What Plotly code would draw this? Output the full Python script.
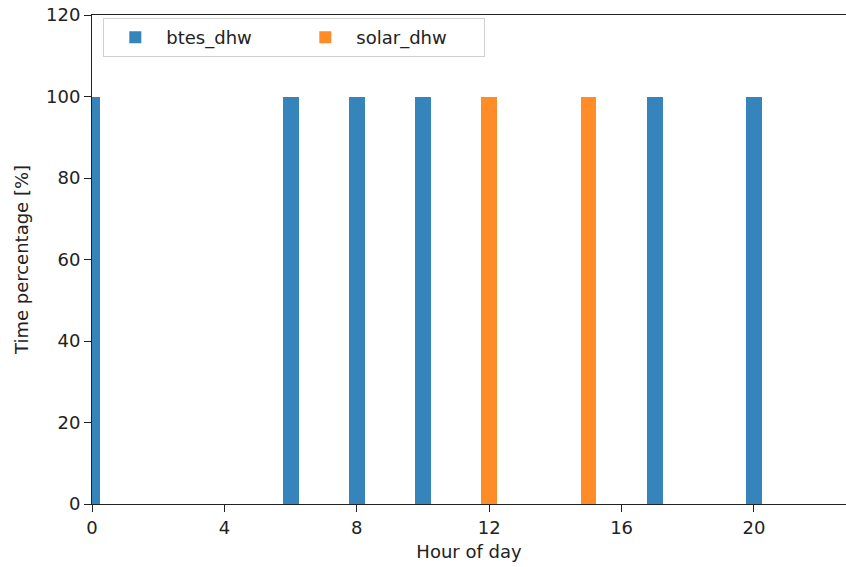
import plotly.graph_objects as go

hours = list(range(24))
btes_dhw = [100, 0, 0, 0, 0, 0, 100, 0, 100, 0, 100, 0, 0, 0, 0, 0, 0, 100, 0, 0, 100, 0, 0, 0]
solar_dhw = [0, 0, 0, 0, 0, 0, 0, 0, 0, 0, 0, 0, 100, 0, 0, 100, 0, 0, 0, 0, 0, 0, 0, 0]
x_ticks = [0, 4, 8, 12, 16, 20]
y_ticks = [0, 20, 40, 60, 80, 100, 120]

font = dict(family="DejaVu Sans", size=18, color="#222")

fig = go.Figure()
fig.add_trace(go.Bar(x=hours, y=btes_dhw, name="btes_dhw", width=0.48,
                     marker=dict(color="rgba(31,119,180,0.9)", line=dict(width=0))))
fig.add_trace(go.Bar(x=hours, y=solar_dhw, name="solar_dhw", width=0.48,
                     marker=dict(color="rgba(255,127,14,0.9)", line=dict(width=0))))

fig.update_layout(
    width=846, height=567, barmode="stack",
    margin=dict(l=92, r=0, t=15, b=63),
    paper_bgcolor="white", plot_bgcolor="white",
    font=font,
    legend=dict(orientation="h", x=0.015, y=0.994, xanchor="left", yanchor="top",
                traceorder="normal",
                bordercolor="#d0d0d0", borderwidth=1, bgcolor="rgba(255,255,255,0.8)",
                font=dict(family="DejaVu Sans", size=18, color="#222"),
                itemwidth=52, entrywidth=123),
    xaxis=dict(range=[0, 22.78], tickvals=x_ticks, showgrid=False, zeroline=False,
               showline=True, linecolor="#222", linewidth=1, mirror=True,
               ticks="outside", ticklen=7, tickcolor="#222",
               tickfont=font,
               title=dict(text="Hour of day", font=font, standoff=8)),
    yaxis=dict(range=[0, 120], tickvals=y_ticks, showgrid=False, zeroline=False,
               showline=True, linecolor="#222", linewidth=1,
               ticks="outside", ticklen=7, tickcolor="#222",
               tickfont=font,
               title=dict(text="Time percentage [%]", font=font, standoff=12)),
)
fig.write_html("out.html", config={"displayModeBar": False},
               post_script="document.body.style.margin='0';")
